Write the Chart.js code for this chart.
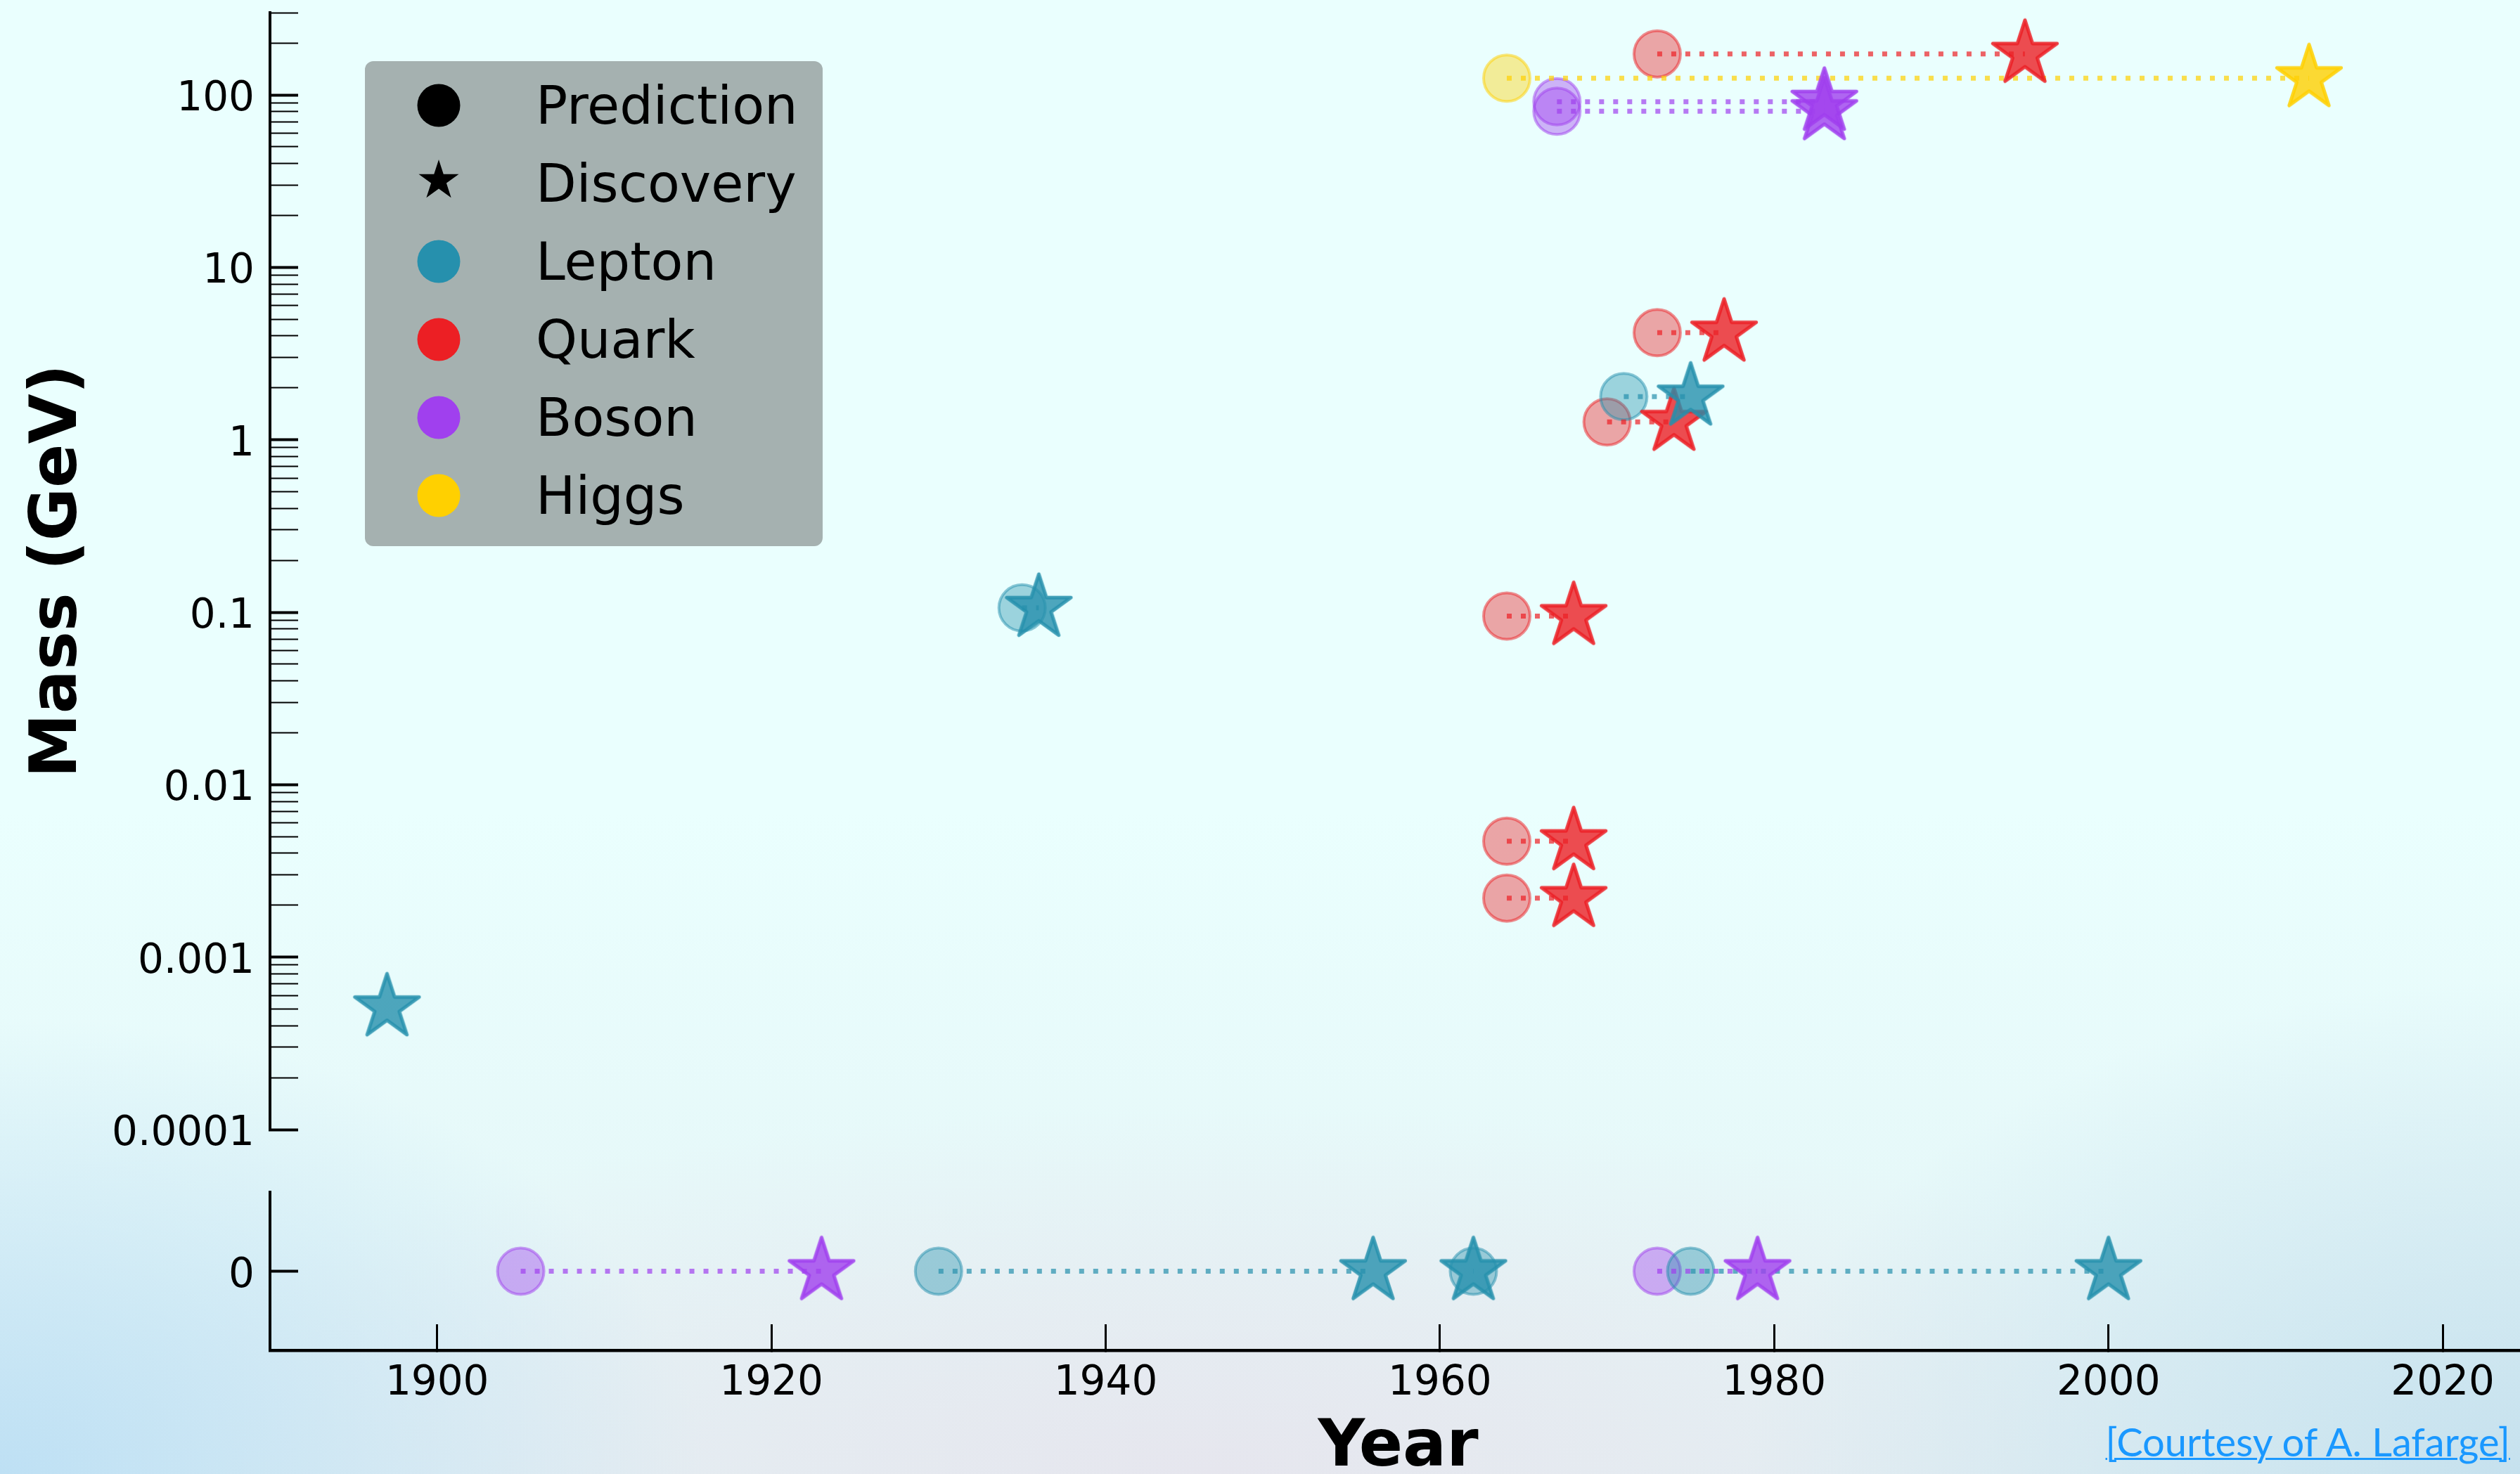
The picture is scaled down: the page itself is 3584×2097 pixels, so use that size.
<!DOCTYPE html>
<html>
<head>
<meta charset="utf-8">
<title>Particle masses: prediction vs discovery</title>
<script src="https://cdn.jsdelivr.net/npm/chart.js@4.4.1/dist/chart.umd.min.js"></script>
<style>
  html, body {
    margin: 0;
    padding: 0;
    width: 3584px;
    height: 2097px;
    overflow: hidden;
  }
  body {
    position: relative;
    font-family: 'DejaVu Sans', sans-serif;
    background:
      radial-gradient(ellipse 1000px 650px at 0% 100%, rgba(190, 224, 244, 1), rgba(190, 224, 244, 0)),
      radial-gradient(ellipse 1100px 700px at 100% 100%, rgba(198, 225, 238, 1), rgba(198, 225, 238, 0)),
      radial-gradient(ellipse 1700px 520px at 48% 100%, rgba(230, 230, 238, 1), rgba(230, 230, 238, 0)),
      linear-gradient(180deg, #eafffe 0%, #eafffe 55%, #e3f3f5 100%);
  }
  .panel { position: absolute; left: 0; width: 3600px; }
  #upperBox { top: 0; height: 1660px; }
  #lowerBox { top: 1600px; height: 540px; }

  /* legend box, grey with rounded corners */
  .legend {
    position: absolute;
    left: 519px;
    top: 87px;
    width: 651px;
    height: 690px;
    box-sizing: border-box;
    padding-top: 7px;
    background: #a5b1b0;
    border-radius: 12px;
    z-index: 2;
  }
  .legend .row {
    position: relative;
    height: 111px;
    font-size: 75px;
    color: #000;
  }
  .legend .mark {
    position: absolute;
    left: 105px;
    top: 50%;
    transform: translate(-50%, -50%);
  }
  .legend .dot { width: 61px; height: 61px; border-radius: 50%; }
  .legend .txt {
    position: absolute;
    left: 243px;
    top: 50%;
    transform: translateY(-50%);
    line-height: 1;
    white-space: nowrap;
  }
  .credit {
    position: absolute;
    right: 14px;
    top: 2023px;
    font-family: Lato, 'Open Sans', sans-serif;
    font-size: 56px;
    line-height: 1;
    color: #1a98ff;
    text-decoration: underline;
    text-decoration-thickness: 3px;
    z-index: 2;
  }
</style>
</head>
<body>
<div class="panel" id="upperBox"><canvas id="upper"></canvas></div>
<div class="panel" id="lowerBox"><canvas id="lower"></canvas></div>
<div class="legend" id="legend"></div>
<div class="credit">[Courtesy of A. Lafarge]</div>

<script>
// --- data: particles with a measured mass (upper log panel) ---
const massiveParticles = ['e', 'μ', 'u', 'd', 's', 'c', 'τ', 'b', 't', 'W', 'Z', 'H'];
const massiveKinds = ['Lepton', 'Lepton', 'Quark', 'Quark', 'Quark', 'Quark', 'Lepton', 'Quark', 'Quark', 'Boson', 'Boson', 'Higgs'];
const massiveMass = [0.000511, 0.106, 0.0022, 0.0047, 0.095, 1.27, 1.78, 4.18, 173, 80.4, 91.2, 125];
const massivePredicted = [null, 1935, 1964, 1964, 1964, 1970, 1971, 1973, 1973, 1967, 1967, 1964];
const massiveDiscovered = [1897, 1936, 1968, 1968, 1968, 1974, 1975, 1977, 1995, 1983, 1983, 2012];

// --- data: massless particles (lower panel, mass = 0) ---
const masslessParticles = ['γ', 'νe', 'νμ', 'g', 'ντ'];
const masslessKinds = ['Boson', 'Lepton', 'Lepton', 'Boson', 'Lepton'];
const masslessMass = [0, 0, 0, 0, 0];
const masslessPredicted = [1905, 1930, 1962, 1973, 1975];
const masslessDiscovered = [1923, 1956, 1962, 1979, 2000];

// --- axes ---
const xMin = 1890, xMax = 2025;
const xTickValues = [1900, 1920, 1940, 1960, 1980, 2000, 2020];
const yLogMin = 0.0001, yLogMax = 300;
const yMajorValues = [0.0001, 0.001, 0.01, 0.1, 1, 10, 100];
const yMajorLabels = ['0.0001', '0.001', '0.01', '0.1', '1', '10', '100'];
const yMinorSteps = [2, 3, 4, 5, 6, 7, 8, 9];
const zeroTickValues = [0];
const zeroTickLabels = ['0'];

const kindNames = ['Lepton', 'Quark', 'Boson', 'Higgs'];
const kindColors = { Lepton: '#2690ad', Quark: '#ec1f24', Boson: '#a040ee', Higgs: '#ffd000' };

const axisWidth = 384;
Chart.defaults.font.family = "'DejaVu Sans', sans-serif";

function rgba(hex, a) {
  const n = parseInt(hex.slice(1), 16);
  return `rgba(${n >> 16}, ${(n >> 8) & 255}, ${n & 255}, ${a})`;
}

// five point star (same shape as matplotlib '*'), used as point style
function starPoints(r, cx, cy) {
  const pts = [];
  for (let i = 0; i < 10; i++) {
    const rr = i % 2 ? r * 0.382 : r;
    const a = -Math.PI / 2 + i * Math.PI / 5;
    pts.push([cx + rr * Math.cos(a), cy + rr * Math.sin(a)]);
  }
  return pts;
}

function starImage(hex) {
  const r = 48, pad = 5;
  const c = document.createElement('canvas');
  c.width = c.height = 2 * (r + pad);
  const g = c.getContext('2d');
  g.beginPath();
  starPoints(r, r + pad, r + pad).forEach(([x, y], i) => i ? g.lineTo(x, y) : g.moveTo(x, y));
  g.closePath();
  g.fillStyle = rgba(hex, 0.8);
  g.fill();
  g.lineJoin = 'round';
  g.lineWidth = 5;
  g.strokeStyle = rgba(hex, 0.85);
  g.stroke();
  return c;
}

function pointsFor(kinds, years, masses, kind) {
  const out = [];
  kinds.forEach((k, i) => {
    if (k === kind && years[i] != null) out.push({ x: years[i], y: masses[i] });
  });
  return out;
}

function buildDatasets(kinds, pred, disc, masses) {
  const sets = [];
  kindNames.forEach(kind => {
    const col = kindColors[kind];
    sets.push({
      label: kind + ' prediction',
      data: pointsFor(kinds, pred, masses, kind),
      pointStyle: 'circle',
      pointRadius: 33,
      pointHoverRadius: 33,
      backgroundColor: rgba(col, 0.4),
      borderColor: rgba(col, 0.5),
      borderWidth: 4,
      order: 3,
      clip: false
    });
    sets.push({
      label: kind + ' discovery',
      data: pointsFor(kinds, disc, masses, kind),
      pointStyle: starImage(col),
      order: 1,
      clip: false
    });
  });
  // dotted link between prediction and discovery
  kinds.forEach((kind, i) => {
    if (pred[i] == null) return;
    sets.push({
      label: 'link',
      data: [{ x: pred[i], y: masses[i] }, { x: disc[i], y: masses[i] }],
      showLine: true,
      pointRadius: 0,
      pointHoverRadius: 0,
      borderColor: rgba(kindColors[kind], 0.7),
      borderWidth: 7,
      borderDash: [7, 13],
      borderCapStyle: 'butt',
      order: 2,
      clip: false
    });
  });
  return sets;
}

const logTickValues = [];
yMajorValues.forEach(v => {
  logTickValues.push(v);
  if (v < 100) yMinorSteps.forEach(s => logTickValues.push(Number((s * v).toPrecision(3))));
});
logTickValues.push(200, 300);

// y labels: a blank first line nudges the digits down so they sit centred on the tick
const yLabelFont = { size: 58, lineHeight: '14px' };

const common = {
  animation: false,
  responsive: true,
  maintainAspectRatio: false,
  events: [],
  plugins: { legend: { display: false }, tooltip: { enabled: false } }
};

const upper = new Chart(document.getElementById('upper'), {
  type: 'scatter',
  data: { datasets: buildDatasets(massiveKinds, massivePredicted, massiveDiscovered, massiveMass) },
  options: {
    ...common,
    layout: { padding: { left: 0, right: 7, top: 0, bottom: 0 } },
    scales: {
      x: { type: 'linear', min: xMin, max: xMax, bounds: 'data', display: false },
      y: {
        type: 'logarithmic',
        min: yLogMin,
        max: yLogMax,
        bounds: 'data',
        afterBuildTicks: s => { s.ticks = logTickValues.map(v => ({ value: v })); },
        afterFit: s => { s.width = axisWidth; },
        ticks: {
          autoSkip: false,
          padding: 62,
          color: '#000',
          font: yLabelFont,
          callback: v => {
            const i = yMajorValues.indexOf(v);
            return i >= 0 ? ['', yMajorLabels[i]] : '';
          }
        },
        grid: {
          drawOnChartArea: false,
          tickLength: -40,
          tickColor: '#000',
          tickWidth: c => (c.tick && yMajorValues.includes(c.tick.value)) ? 4 : 2
        },
        border: { display: true, width: 4, color: '#000' },
        title: {
          display: true,
          text: 'Mass (GeV)',
          color: '#000',
          font: { size: 92, weight: 'bold' },
          padding: { top: 29, bottom: 0 }
        }
      }
    }
  }
});

const lower = new Chart(document.getElementById('lower'), {
  type: 'scatter',
  data: { datasets: buildDatasets(masslessKinds, masslessPredicted, masslessDiscovered, masslessMass) },
  options: {
    ...common,
    layout: { padding: { left: 0, right: 7, top: 96, bottom: 0 } },
    scales: {
      x: {
        type: 'linear',
        min: xMin,
        max: xMax,
        bounds: 'data',
        afterBuildTicks: s => { s.ticks = xTickValues.map(v => ({ value: v })); },
        afterFit: s => { s.height = 219; },
        ticks: { autoSkip: false, maxRotation: 0, padding: 50, color: '#000', font: { size: 58 }, callback: v => String(v) },
        grid: { drawOnChartArea: false, tickLength: -37, tickColor: '#000', tickWidth: 3 },
        border: { display: true, width: 4.5, color: '#000' },
        title: {
          display: true,
          text: 'Year',
          color: '#000',
          font: { size: 92, weight: 'bold' },
          padding: { top: 0, bottom: 24 }
        }
      },
      y: {
        type: 'linear',
        min: -1,
        max: 1,
        bounds: 'data',
        afterBuildTicks: s => { s.ticks = zeroTickValues.map(v => ({ value: v })); },
        afterFit: s => { s.width = axisWidth; },
        ticks: {
          padding: 62,
          color: '#000',
          font: yLabelFont,
          callback: v => ['', zeroTickLabels[zeroTickValues.indexOf(v)] ?? '']
        },
        grid: { drawOnChartArea: false, tickLength: -40, tickColor: '#000', tickWidth: 4 },
        border: { display: true, width: 4, color: '#000' }
      }
    }
  }
});

// move / stretch each canvas so its plot area lands where the reference has it
function place(chart, box, top, bottom, right) {
  for (let k = 0; k < 2; k++) {
    const a = chart.chartArea;
    box.style.height = (bottom - top + chart.height - (a.bottom - a.top)) + 'px';
    box.style.width = (chart.width + right - a.right) + 'px';
    chart.resize();
  }
  box.style.top = (top - chart.chartArea.top) + 'px';
}
place(upper, document.getElementById('upperBox'), 18, 1607, 3593);
place(lower, document.getElementById('lowerBox'), 1696, 1921, 3593);

// legend (grey box, top left)
const legend = document.getElementById('legend');
const starPoly = starPoints(30, 32, 34).map(p => p.join(',')).join(' ');
const legendRows = [
  { label: 'Prediction', mark: '<div class="dot" style="background:#000"></div>' },
  { label: 'Discovery', mark: `<svg width="64" height="64"><polygon points="${starPoly}" fill="#000"/></svg>` }
].concat(kindNames.map(k => ({ label: k, mark: `<div class="dot" style="background:${kindColors[k]}"></div>` })));
legend.innerHTML = legendRows.map(r =>
  `<div class="row"><div class="mark">${r.mark}</div><span class="txt">${r.label}</span></div>`
).join('');
</script>
</body>
</html>
